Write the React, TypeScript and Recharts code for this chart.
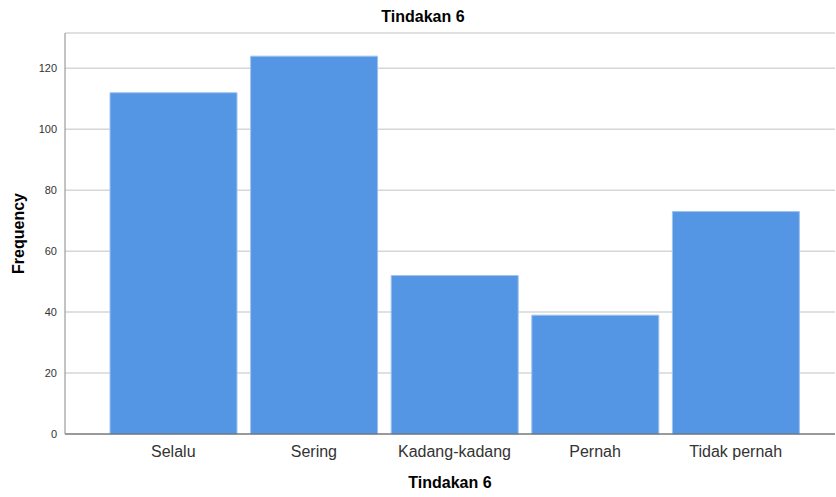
import { BarChart, Bar, XAxis, YAxis, CartesianGrid, Label } from "recharts";

const categories = ["Selalu", "Sering", "Kadang-kadang", "Pernah", "Tidak pernah"];
const frequencies = [112, 124, 52, 39, 73];
const yTicks = [0, 20, 40, 60, 80, 100, 120];

const data = categories.map((name, i) => ({ name, frequency: frequencies[i] }));

const font = "'Liberation Sans', Arial, sans-serif";

export default function App() {
  return (
    <div style={{ position: "absolute", left: 0, top: 0, width: 836, height: 497, background: "#fff", fontFamily: font }}>
      <div
        style={{
          position: "absolute",
          top: 8,
          left: 0,
          width: 846,
          textAlign: "center",
          fontWeight: "bold",
          fontSize: 16,
          color: "#000",
        }}
      >
        Tindakan 6
      </div>
      <BarChart width={836} height={497} data={data} margin={{ top: 33, right: 1, bottom: 3, left: 0 }}>
        <CartesianGrid vertical={false} stroke="#d6d6d6" strokeWidth={1.5} />
        <XAxis
          dataKey="name"
          height={60}
          padding={{ left: 38, right: 29 }}
          tickLine={false}
          tickSize={0}
          tickMargin={12}
          axisLine={{ stroke: "#555" }}
          tick={{ fill: "#333", fontSize: 16, fontFamily: font }}
        >
          <Label
            content={({ viewBox }: any) => (
              <text
                x={viewBox.x + viewBox.width / 2}
                y={viewBox.y + viewBox.height - 6}
                textAnchor="middle"
                fontFamily={font}
                fontSize={16}
                fontWeight="bold"
                fill="#000"
              >
                Tindakan 6
              </text>
            )}
          />
        </XAxis>
        <YAxis
          width={65}
          domain={[0, 131.6]}
          ticks={yTicks}
          tickLine={false}
          axisLine={{ stroke: "#888" }}
          tick={{ fill: "#333", fontSize: 11, fontFamily: font }}
        >
          <Label
            content={({ viewBox }: any) => {
              const cx = 24;
              const cy = viewBox.y + viewBox.height / 2;
              return (
                <text
                  x={cx}
                  y={cy}
                  transform={`rotate(-90 ${cx} ${cy})`}
                  textAnchor="middle"
                  fontFamily={font}
                  fontSize={16}
                  fontWeight="bold"
                  fill="#000"
                >
                  Frequency
                </text>
              );
            }}
          />
        </YAxis>
        <Bar dataKey="frequency" fill="#5596e4" stroke="#9fc3ef" strokeWidth={1} barSize={127} isAnimationActive={false} />
      </BarChart>
    </div>
  );
}
